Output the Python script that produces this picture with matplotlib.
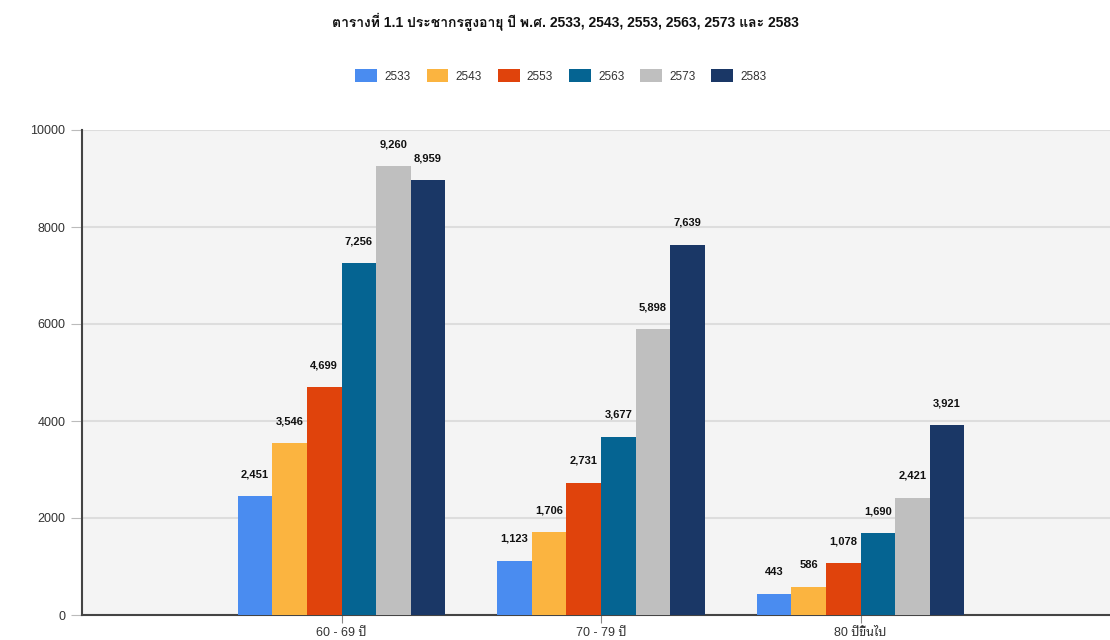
import matplotlib
matplotlib.use("Agg")
import matplotlib.pyplot as plt
import numpy as np

categories = ["60 - 69 ปี", "70 - 79 ปี", "80 ปีขึ้นไป"]
series_names = ["2533", "2543", "2553", "2563", "2573", "2583"]
v2533 = [2451, 1123, 443]
v2543 = [3546, 1706, 586]
v2553 = [4699, 2731, 1078]
v2563 = [7256, 3677, 1690]
v2573 = [9260, 5898, 2421]
v2583 = [8959, 7639, 3921]
values = [v2533, v2543, v2553, v2563, v2573, v2583]
colors = ["#4a8cf0", "#fbb440", "#e0430c", "#056492", "#bfbfbf", "#1a3766"]
title = "ตารางที่ 1.1 ประชากรสูงอายุ ปี พ.ศ. 2533, 2543, 2553, 2563, 2573 และ 2583"

plt.rcParams['font.family'] = ["Liberation Sans", "Noto Sans Thai Looped", "Loma", "DejaVu Sans"]

W, H = 1110, 640
fig = plt.figure(figsize=(W/100, H/100), dpi=100)
left, right, top, bottom = 82, 1110, 130, 615
ax = fig.add_axes([left/W, 1-bottom/H, (right-left)/W, (bottom-top)/H])
ax.set_facecolor("#f4f4f4")

x = np.arange(1, len(categories)+1)
n = len(values)
bw = 0.8/n
for i, (vals, c, nm) in enumerate(zip(values, colors, series_names)):
    pos = x - 0.4 + bw*(i+0.5)
    bars = ax.bar(pos, vals, width=bw, color=c, label=nm, zorder=3)
    for b, v in zip(bars, vals):
        ax.annotate(f"{v:,}", (b.get_x()+b.get_width()/2, v), xytext=(0, 12),
                    textcoords="offset points", ha="center", va="bottom",
                    fontsize=8, fontweight="bold", color="#111111", zorder=4)

ax.set_xlim(0, (right-left)/259.5)
ax.set_ylim(0, 10000)
ax.set_yticks(np.arange(0, 10001, 2000))
ax.set_xticks(x)
ax.set_xticklabels(categories)
ax.yaxis.grid(True, color="#dddddd", linewidth=1.5, zorder=0)
ax.set_axisbelow(True)
for s in ["top", "right"]:
    ax.spines[s].set_visible(False)
ax.spines["left"].set_color("#444444")
ax.spines["bottom"].set_color("#444444")
ax.spines["left"].set_linewidth(1.5)
ax.spines["bottom"].set_linewidth(1.5)
ax.tick_params(axis="y", length=8, color="#bbbbbb", labelsize=9, labelcolor="#333333", pad=4)
ax.tick_params(axis="x", length=6, color="#888888", labelsize=9, labelcolor="#333333", pad=2.5)

fig.text(565/W, 1-22/H, title, ha="center", va="center", fontsize=10, fontweight="bold",
         color="#111111", family=["Liberation Sans", "Loma", "Noto Sans Thai Looped", "DejaVu Sans"])
leg = fig.legend(loc="center", bbox_to_anchor=(561/W, 1-76/H), ncol=6, frameon=False,
                 fontsize=8.5, handlelength=1.86, handleheight=1.35, columnspacing=1.35,
                 handletextpad=0.6)
for t in leg.get_texts():
    t.set_color("#333333")

fig.savefig("out.png", dpi=100)
